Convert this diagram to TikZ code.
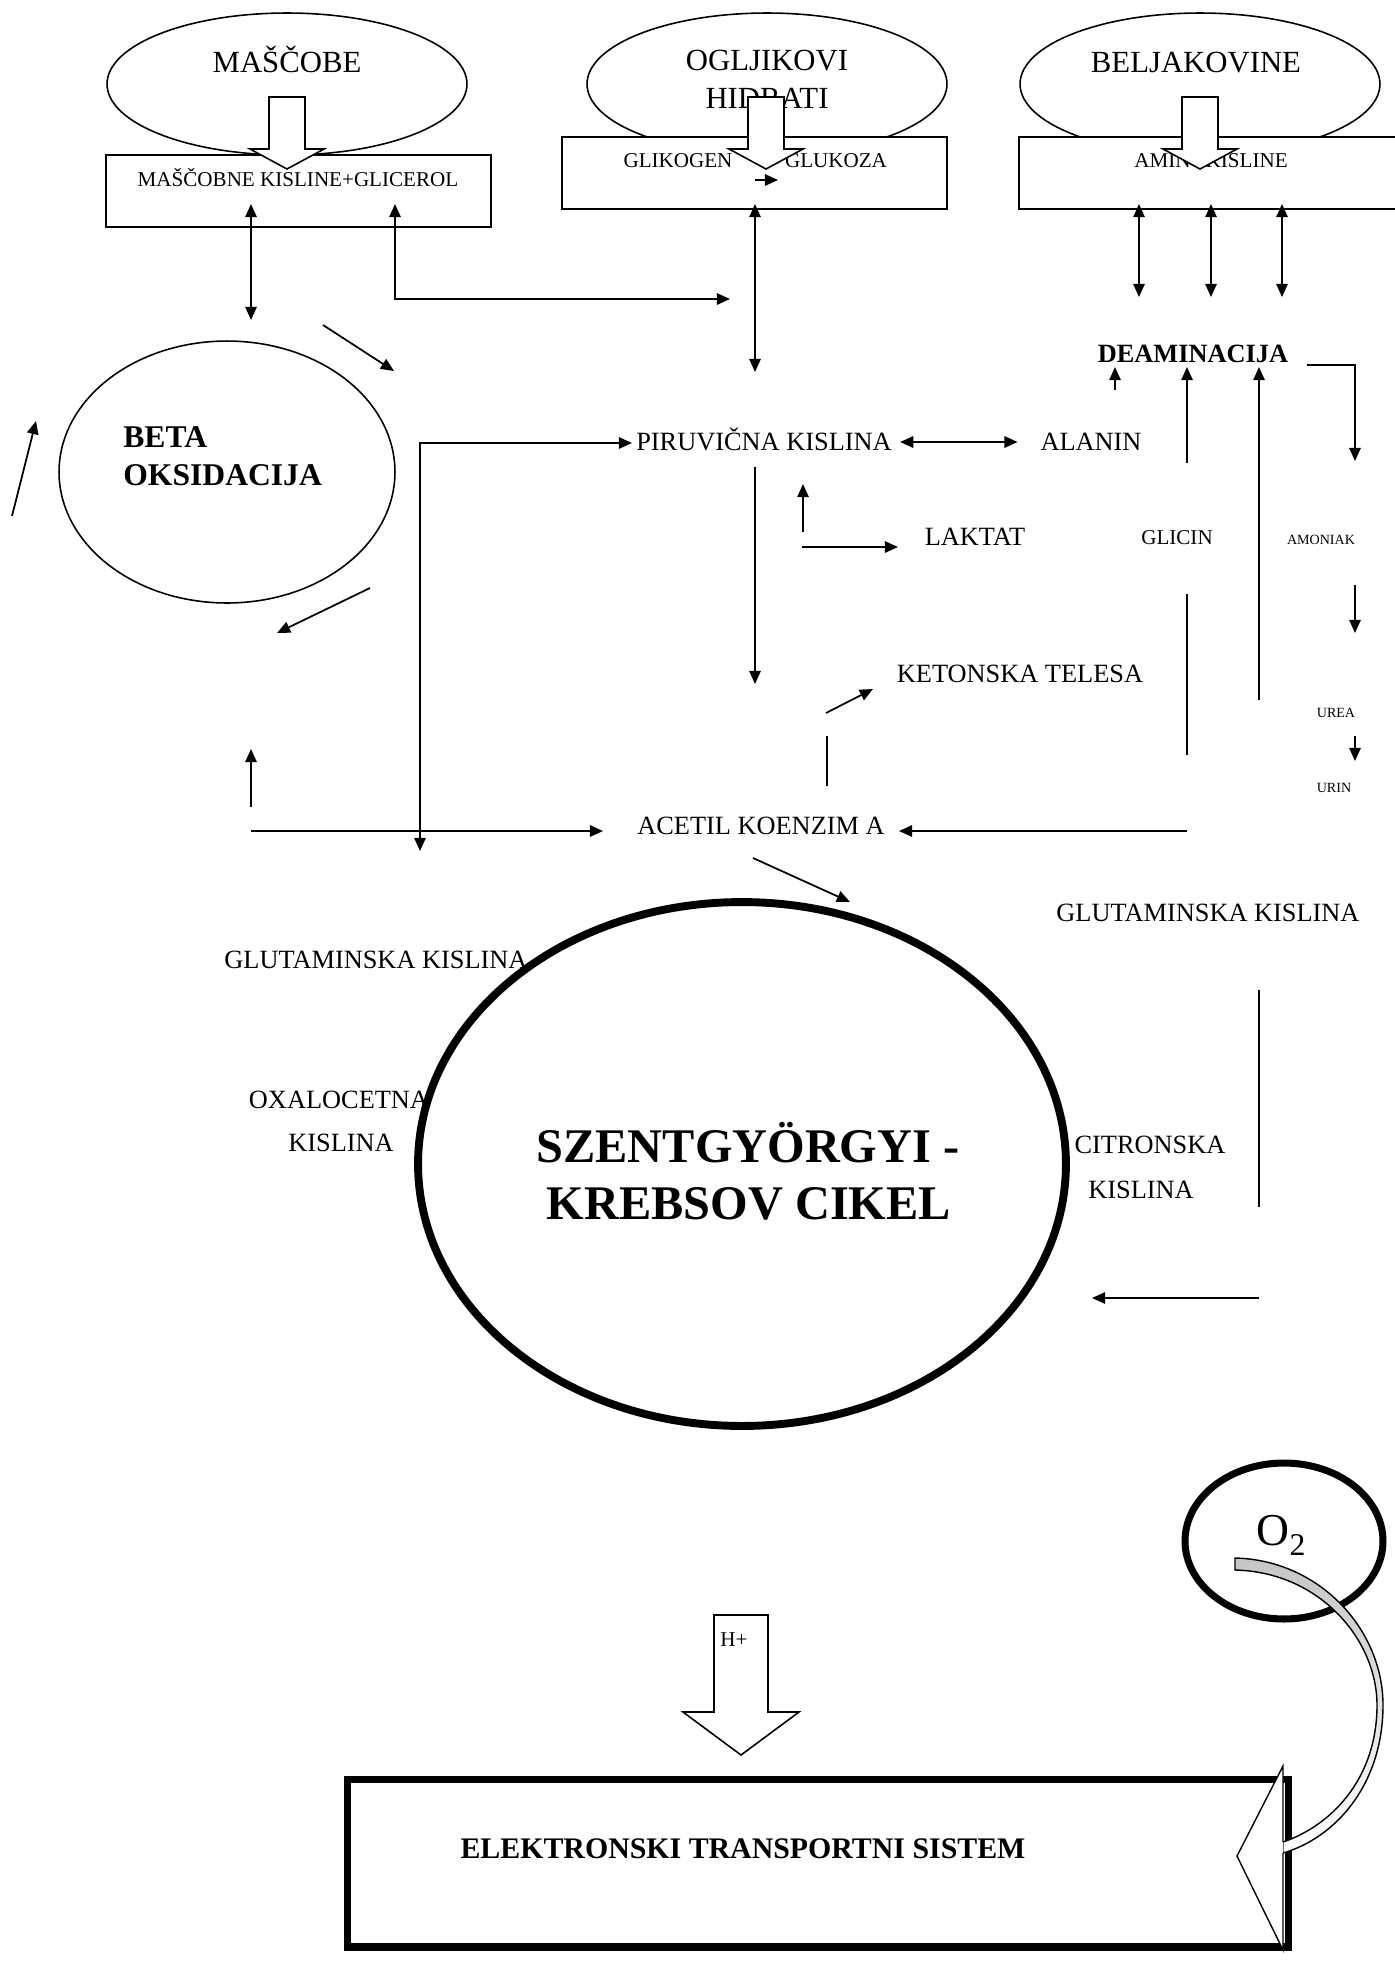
\documentclass[tikz,border=0pt]{standalone}
\usepackage{fontspec}
\setmainfont{Liberation Serif}
\usetikzlibrary{positioning, shapes.geometric, arrows.meta}
\tikzset{>={Triangle[length=7.5pt,width=6.5pt]}}
\tikzset{
    source/.style = {ellipse, draw, line width=0.9pt, minimum width=7.2cm,
                        minimum height=2.84cm, inner sep=0pt},
    store/.style = {rectangle, draw, fill=white, line width=0.9pt, minimum width=7.7cm,
                        minimum height=1.44cm, inner sep=0pt},
    bigtxt/.style = {inner sep=0pt, text height=11.6pt, text depth=0pt, font=\fontsize{17.5}{21}\selectfont},
    midtxt/.style = {inner sep=0pt, text height=9.9pt, text depth=0pt, font=\fontsize{15}{18}\selectfont},
    boxtxt/.style = {inner sep=0pt, text height=7.9pt, text depth=0pt, font=\fontsize{12}{14}\selectfont},
    minitxt/.style = {inner sep=0pt, text height=5.3pt, text depth=0pt, font=\fontsize{8}{10}\selectfont},
    boldtxt/.style = {inner sep=0pt, text height=11.9pt, text depth=0pt, font=\fontsize{18}{21}\selectfont\bfseries},
    krebstxt/.style = {inner sep=0pt, text height=18.2pt, text depth=0pt, font=\fontsize{27.5}{32}\selectfont\bfseries},
    conn/.style = {line width=1pt, ->},
    dconn/.style = {line width=1pt, <->},
    bare/.style = {line width=1pt},
    pics/blockarrow/.style args={#1/#2/#3/#4}{code={
        \draw [line width=0.9pt, fill=white] (-#1,0) -- (#1,0) -- (#1,#3) -- (#2,#3)
            -- (0,#4) -- (-#2,#3) -- (-#1,#3) -- cycle;
    }}
}

\begin{document}
\begin{tikzpicture}[x=0.02cm, y=-0.02cm]
    \useasboundingbox (0,0) rectangle (1395,1969);
    % sources
    \node (fats) [source] at (287,84) {};
    \node (carbs) [source] at (767,84) {};
    \node (prot) [source] at (1200,84) {};
    \node (fatsname) [bigtxt] at (287,62) {MAŠČOBE};
    \node (carbsname) [bigtxt] at (767,60) {OGLJIKOVI};
    \node (carbsname2) [bigtxt] at (767,98) {HIDRATI};
    \node (protname) [bigtxt] at (1196,62) {BELJAKOVINE};
    \node (fatbox) [store] at (298.5,191) {};
    \node (carbbox) [store] at (754.5,173) {};
    \node (protbox) [store, minimum width=7.66cm] at (1210.5,173) {};
    \node (fatacids) [boxtxt] at (298,180) {MAŠČOBNE KISLINE+GLICEROL};
    \node (glycogen) [boxtxt] at (678,161) {GLIKOGEN};
    \node (glucose) [boxtxt] at (836,161) {GLUKOZA};
    \node (amino) [boxtxt] at (1211,161) {AMINOKISLINE};
    \coordinate (g1) at (755,180);
    \coordinate (g2) at (778,180);
    \draw [conn] (g1) -- (g2);
    \pic at (287,97) {blockarrow={18/37/52/72}};
    \pic at (766,97) {blockarrow={18/37/52/72}};
    \pic at (1200,97) {blockarrow={18/37/52/72}};

    % beta oksidacija
    \node (beta) [source, minimum width=6.72cm, minimum height=5.24cm] at (227,472) {};
    \node (betaname) [boldtxt, anchor=west] at (123,437) {BETA};
    \node (betaname2) [boldtxt, anchor=west] at (123,475) {OKSIDACIJA};
    \coordinate (fa1) at (251,204);
    \coordinate (fa2) at (251,320);
    \draw [dconn] (fa1) -- (fa2);
    \coordinate (gl1) at (395,204);
    \coordinate (gl2) at (730,299);
    \draw [dconn] (gl1) |- (gl2);
    \coordinate (b1) at (323,325);
    \coordinate (b2) at (394,371);
    \draw [conn] (b1) -- (b2);
    \coordinate (b3) at (12,516);
    \coordinate (b4) at (36,421);
    \draw [conn] (b3) -- (b4);
    \coordinate (b5) at (370,588);
    \coordinate (b6) at (277,633);
    \draw [conn] (b5) -- (b6);
    \coordinate (b7) at (251,807);
    \coordinate (b8) at (251,749);
    \draw [conn] (b7) -- (b8);
    \coordinate (b9) at (251,831);
    \coordinate (b10) at (603,831);
    \draw [conn] (b9) -- (b10);

    % piruvicna kislina
    \node (piruv) [midtxt] at (764,442) {PIRUVIČNA KISLINA};
    \node (alanin) [midtxt] at (1091,442) {ALANIN};
    \node (laktat) [midtxt] at (975,537) {LAKTAT};
    \coordinate (p1) at (420,851);
    \coordinate (p2) at (632,443);
    \draw [dconn] (p1) |- (p2);
    \draw [dconn, shorten <=0.16cm, shorten >=0.45cm] (piruv) -- (alanin);
    \coordinate (cb1) at (755,204);
    \coordinate (cb2) at (755,372);
    \draw [dconn] (cb1) -- (cb2);
    \coordinate (pd1) at (755,467);
    \coordinate (pd2) at (755,684);
    \draw [conn] (pd1) -- (pd2);
    \coordinate (lk1) at (803,532);
    \coordinate (lk2) at (803,484);
    \draw [conn] (lk1) -- (lk2);
    \coordinate (lk3) at (802,547);
    \coordinate (lk4) at (898,547);
    \draw [conn] (lk3) -- (lk4);

    % deaminacija
    \node (deam) [boldtxt, text height=9.9pt, font=\fontsize{15}{18}\selectfont\bfseries] at (1193,354) {DEAMINACIJA};
    \node (glicin) [boxtxt] at (1177,538) {GLICIN};
    \node (amoniak) [minitxt] at (1321,540) {AMONIAK};
    \node (urea) [minitxt] at (1336,713) {UREA};
    \node (urin) [minitxt] at (1334,788) {URIN};
    \foreach \x [count=\i] in {1139,1211,1282} {
        \coordinate (pa\i) at (\x,204);
        \coordinate (pb\i) at (\x,297);
        \draw [dconn] (pa\i) -- (pb\i);
    }
    \coordinate (d1) at (1115,390);
    \coordinate (d2) at (1115,367);
    \draw [conn] (d1) -- (d2);
    \coordinate (gc1) at (1187,463);
    \coordinate (gc2) at (1187,367);
    \draw [conn] (gc1) -- (gc2);
    \coordinate (gc3) at (1187,594);
    \coordinate (gc4) at (1187,755);
    \draw [bare] (gc3) -- (gc4);
    \coordinate (u1) at (1259,700);
    \coordinate (u2) at (1259,367);
    \draw [conn] (u1) -- (u2);
    \coordinate (e1) at (1307,365);
    \coordinate (e2) at (1355,461);
    \draw [conn] (e1) -| (e2);
    \coordinate (am1) at (1355,585);
    \coordinate (am2) at (1355,633);
    \draw [conn] (am1) -- (am2);
    \coordinate (ur1) at (1355,736);
    \coordinate (ur2) at (1355,761);
    \draw [conn] (ur1) -- (ur2);

    % acetil koenzim a
    \node (ket) [midtxt] at (1020,674) {KETONSKA TELESA};
    \node (acetil) [midtxt] at (761,826) {ACETIL KOENZIM A};
    \coordinate (k1) at (826,713);
    \coordinate (k2) at (873,689);
    \draw [conn] (k1) -- (k2);
    \coordinate (k3) at (827,786);
    \coordinate (k4) at (827,736);
    \draw [bare] (k3) -- (k4);
    \coordinate (a1) at (1187,831);
    \coordinate (a2) at (899,831);
    \draw [conn] (a1) -- (a2);
    \coordinate (a3) at (753,858);
    \coordinate (a4) at (850,902);
    \draw [conn] (a3) -- (a4);

    % krebsov cikel
    \node (krebs) [ellipse, draw, line width=4.5pt, minimum width=12.96cm, minimum height=10.48cm] at (742,1164) {};
    \node (szent) [krebstxt] at (748,1146) {SZENTGYÖRGYI -};
    \node (krebsov) [krebstxt] at (749,1203) {KREBSOV CIKEL};
    \node (glut1) [midtxt] at (376,960) {GLUTAMINSKA KISLINA};
    \node (glut2) [midtxt] at (1208,913) {GLUTAMINSKA KISLINA};
    \node (oxal) [midtxt] at (339,1100) {OXALOCETNA};
    \node (oxal2) [midtxt] at (341,1143) {KISLINA};
    \node (citr) [midtxt] at (1150,1145) {CITRONSKA};
    \node (citr2) [midtxt] at (1141,1190) {KISLINA};
    \coordinate (r1) at (1259,990);
    \coordinate (r2) at (1259,1207);
    \draw [bare] (r1) -- (r2);
    \coordinate (r3) at (1259,1298);
    \coordinate (r4) at (1092,1298);
    \draw [conn] (r3) -- (r4);

    % elektronski transportni sistem
    \pic at (741,1615) {blockarrow={27/58/97/140}};
    \node (hplus) [boxtxt] at (734,1640) {H+};
    \node (ets) [rectangle, draw, line width=4pt, minimum width=18.84cm, minimum height=3.36cm] at (818,1863) {};
    \node (etsname) [boldtxt, text height=11.3pt, font=\fontsize{17}{20}\selectfont\bfseries] at (743,1849) {ELEKTRONSKI TRANSPORTNI SISTEM};
    \node (oxy) [ellipse, draw, line width=4pt, minimum width=3.96cm, minimum height=3.12cm] at (1284,1541) {};
    \node (oxyname) [inner sep=0pt, font=\fontsize{26}{30}\selectfont] at (1281,1535) {O\raisebox{-0.22em}{\fontsize{18}{20}\selectfont 2}};
    \draw [line width=0.8pt, top color=gray!45, bottom color=white]
        (1235,1558) .. controls (1320,1560) and (1383,1630) .. (1383,1705)
        .. controls (1383,1785) and (1335,1838) .. (1283,1853)
        -- (1283,1842) .. controls (1330,1826) and (1377,1780) .. (1377,1705)
        .. controls (1377,1640) and (1320,1572) .. (1235,1570) -- cycle;
    \filldraw [line width=0.8pt, fill=white] (1283,1853) -- (1283,1950) -- (1237,1856)
        -- (1283,1766) -- (1283,1842);
\end{tikzpicture}
\end{document}
